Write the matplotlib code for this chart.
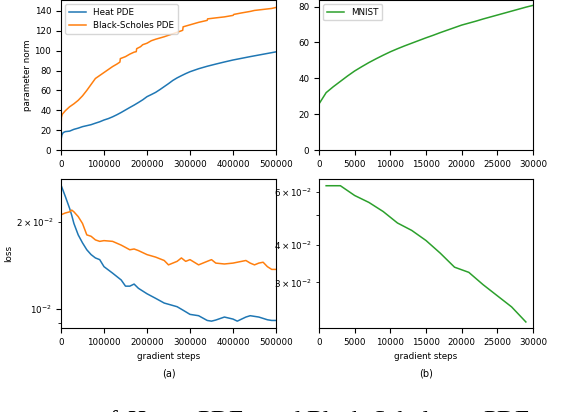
import numpy as np
import matplotlib
matplotlib.use("Agg")
import matplotlib.pyplot as plt
from matplotlib.ticker import MultipleLocator

# parameter norm, PDE runs
pde_steps_heat = [0, 2000, 5000, 10000, 20000, 30000, 40000, 50000, 60000, 70000, 80000, 90000,
                  100000, 110000, 120000, 130000, 140000, 150000, 160000, 170000, 180000, 190000,
                  200000, 210000, 220000, 230000, 240000, 250000, 260000, 270000, 280000, 290000,
                  300000, 320000, 340000, 360000, 380000, 400000, 420000, 440000, 460000, 480000, 500000]
norm_heat = [10, 15, 17.5, 18.5, 19, 20.8, 22, 23.5, 24.5, 25.5, 27, 28.4,
             30.2, 31.6, 33.4, 35.5, 37.8, 40.3, 42.8, 45.2, 47.8, 50.5,
             53.7, 55.8, 58, 60.8, 63.8, 66.8, 70.0, 72.6, 74.8, 76.9,
             78.8, 81.8, 84.3, 86.5, 88.6, 90.6, 92.3, 94, 95.6, 97.2, 98.8]

pde_steps_bs = [0, 1000, 3000, 5000, 10000, 20000, 30000, 40000, 50000, 60000, 70000, 80000, 90000,
                100000, 110000, 120000, 130000, 137000, 138000, 150000, 160000, 170000, 175000, 176000,
                185000, 190000, 200000, 210000, 220000, 240000, 260000, 280000, 283000, 284000,
                300000, 320000, 340000, 341000, 360000, 380000, 400000, 402000, 420000, 440000,
                450000, 470000, 490000, 500000]
norm_bs = [22, 33, 36, 37, 39.5, 43.5, 46.5, 50, 54.5, 60, 66, 72, 75,
           78, 81, 84, 86.5, 88.5, 92, 94, 96.5, 98.5, 99, 102,
           104, 106, 107.5, 110, 111.5, 114, 117, 120, 120.5, 124,
           126, 128.5, 130.5, 132, 133, 134, 135.5, 136.5, 138, 139.5,
           140.5, 141.5, 142.5, 143.5]

# parameter norm, MNIST
mnist_steps = [0, 1000, 2000, 3000, 4000, 5000, 6000, 7000, 8000, 9000, 10000, 11000, 12000, 13000,
               14000, 15000, 16000, 17000, 18000, 19000, 20000, 21000, 22000, 23000, 24000, 25000,
               26000, 27000, 28000, 29000, 30000]
mnist_norm = [25.7, 32.0, 35.3, 38.3, 41.3, 44.1, 46.5, 48.8, 50.9, 52.9, 54.8, 56.5, 58.1, 59.6,
              61.1, 62.6, 64.0, 65.5, 66.9, 68.3, 69.7, 70.8, 71.9, 73.1, 74.2, 75.3,
              76.4, 77.5, 78.6, 79.7, 80.7]

# loss (x1e-2), PDE runs
loss_steps = [0, 10000, 20000, 25000, 30000, 40000, 50000, 60000, 70000, 80000, 90000, 100000,
              120000, 140000, 150000, 160000, 170000, 180000, 200000, 220000, 240000, 250000,
              260000, 270000, 280000, 290000, 300000, 320000, 340000, 350000, 360000, 380000,
              400000, 410000, 420000, 430000, 440000, 450000, 460000, 470000, 480000, 490000, 500000]
loss_heat = [2.67, 2.44, 2.22, 2.10, 1.97, 1.80, 1.69, 1.60, 1.54, 1.50, 1.48, 1.40,
             1.33, 1.26, 1.20, 1.20, 1.22, 1.18, 1.13, 1.09, 1.05, 1.04,
             1.03, 1.02, 1.00, 0.98, 0.96, 0.95, 0.915, 0.91, 0.918, 0.94,
             0.925, 0.91, 0.925, 0.94, 0.95, 0.945, 0.94, 0.93, 0.92, 0.915, 0.915]
loss_bs = [2.11, 2.14, 2.16, 2.19, 2.16, 2.08, 1.97, 1.80, 1.78, 1.73, 1.71, 1.72,
           1.71, 1.66, 1.63, 1.60, 1.61, 1.59, 1.54, 1.51, 1.47, 1.42,
           1.44, 1.46, 1.50, 1.46, 1.48, 1.42, 1.46, 1.48, 1.44, 1.43,
           1.44, 1.45, 1.46, 1.47, 1.44, 1.42, 1.44, 1.45, 1.40, 1.37, 1.37]

# loss (x1e-2), MNIST
mnist_loss_steps = [1000, 3000, 5000, 7000, 9000, 11000, 13000, 15000, 17000, 19000, 21000,
                    23000, 25000, 27000, 29000]
mnist_loss = [6.27, 6.27, 5.82, 5.52, 5.15, 4.72, 4.46, 4.13, 3.75, 3.37, 3.24,
              2.95, 2.71, 2.49, 2.22]

caption_words = ["approximations", "of", "Heat", "PDE", "and", "Black-Scholes", "PDE", "and"]
caption_px = [-66, 97, 127, 197, 265, 306, 483, 549]

W, H = 576, 412
fs = 6.3
plt.rcParams["font.size"] = fs
fig = plt.figure(figsize=(W / 100, H / 100), dpi=100)

def px_axes(x0, x1, y0, y1):
    return fig.add_axes([x0 / W, (H - y1) / H, (x1 - x0) / W, (y1 - y0) / H])

ax1 = px_axes(61, 276, 0, 150)
ax2 = px_axes(319, 533, 0, 150)
ax3 = px_axes(61, 276, 179, 328)
ax4 = px_axes(319, 533, 179, 328)

lw = 1.1
ax1.plot(pde_steps_heat, norm_heat, color="tab:blue", lw=lw, label="Heat PDE")
ax1.plot(pde_steps_bs, norm_bs, color="tab:orange", lw=lw, label="Black-Scholes PDE")
ax1.set_xlim(0, 500000)
ax1.set_ylim(0, 151)
ax1.yaxis.set_major_locator(MultipleLocator(20))
ax1.set_ylabel("parameter norm")
ax1.yaxis.set_label_coords(-0.135, 0.5)
ax1.legend(loc="upper left", fontsize=fs)

ax2.plot(mnist_steps, mnist_norm, color="tab:green", lw=lw, label="MNIST")
ax2.set_xlim(0, 30000)
ax2.set_ylim(0, 83.7)
ax2.yaxis.set_major_locator(MultipleLocator(20))
ax2.legend(loc="upper left", fontsize=fs)

ax3.plot(loss_steps, np.array(loss_heat) * 1e-2, color="tab:blue", lw=lw)
ax3.plot(loss_steps, np.array(loss_bs) * 1e-2, color="tab:orange", lw=lw)
ax3.set_yscale("log")
ax3.set_xlim(0, 500000)
ax3.set_ylim(0.862e-2, 2.8e-2)
ax3.set_ylabel("loss")
ax3.yaxis.set_label_coords(-0.223, 0.5)
ax3.set_xlabel("gradient steps")

ax4.plot(mnist_loss_steps, np.array(mnist_loss) * 1e-2, color="tab:green", lw=lw)
ax4.set_yscale("log")
ax4.set_xlim(0, 30000)
ax4.set_ylim(2.12e-2, 6.6e-2)
ax4.set_xlabel("gradient steps")

for ax in (ax1, ax2, ax3, ax4):
    ax.tick_params(which="both", labelsize=fs)

fig.text(168.5 / W, (H - 373) / H, "(a)", ha="center", va="center", fontsize=7)
fig.text(426 / W, (H - 373) / H, "(b)", ha="center", va="center", fontsize=7)

# caption line cut off at the bottom of the crop
for word, x in zip(caption_words, caption_px):
    fig.text(x / W, (H - 428.5) / H, word, ha="left", va="baseline",
             fontsize=18, family="Liberation Serif")

fig.savefig("out.png", dpi=100)
